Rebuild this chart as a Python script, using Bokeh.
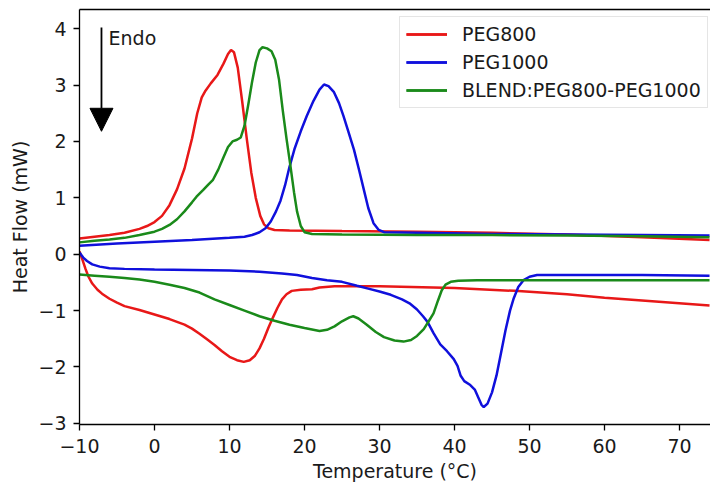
from bokeh.plotting import figure
from bokeh.models import Range1d, FixedTicker, LinearAxis, Arrow, NormalHead, Label
from bokeh.embed import file_html
from bokeh.resources import INLINE

# ---------------- data ----------------
series_names = ["PEG800", "PEG1000", "BLEND:PEG800-PEG1000"]

# PEG800 cooling (exothermic peak, upper curve)
peg800_cool_x = [-10, -8, -6, -4, -2, -1, 0, 1, 2, 3, 4, 5, 5.7, 6.3, 6.8, 7.5, 8.4, 9.2, 9.8, 10.2,
                 10.6, 11.1, 11.7, 12.3, 12.9, 13.5, 14.1, 14.6, 15.2, 16, 18, 25, 35, 45, 55, 65, 74]
peg800_cool_y = [0.28, 0.31, 0.34, 0.38, 0.45, 0.50, 0.57, 0.68, 0.87, 1.15, 1.52, 2.05, 2.50, 2.78, 2.90,
                 3.03, 3.18, 3.38, 3.55, 3.62, 3.58, 3.31, 2.70, 2.05, 1.45, 1.00, 0.68, 0.53, 0.46, 0.43,
                 0.42, 0.41, 0.40, 0.38, 0.35, 0.30, 0.25]
# PEG800 heating (endothermic, lower curve)
peg800_heat_x = [-10, -9.6, -9.2, -8.8, -8.3, -7.6, -7, -6, -5, -4, -2, 0, 2, 4, 5, 6, 7, 8, 9, 10, 11,
                 11.9, 12.7, 13.4, 14, 14.6, 15.2, 15.8, 16.4, 17, 17.6, 18.3, 19.5, 21, 22, 24, 30, 40,
                 48, 55, 60, 65, 74]
peg800_heat_y = [0.05, -0.10, -0.26, -0.40, -0.52, -0.63, -0.70, -0.79, -0.86, -0.92, -0.99, -1.07, -1.15,
                 -1.25, -1.32, -1.41, -1.51, -1.61, -1.72, -1.82, -1.88, -1.91, -1.88, -1.80, -1.67, -1.50,
                 -1.30, -1.12, -0.95, -0.80, -0.71, -0.65, -0.63, -0.62, -0.59, -0.57, -0.57, -0.60, -0.65,
                 -0.71, -0.77, -0.82, -0.91]

# PEG1000 cooling
peg1000_cool_x = [-10, -5, 0, 5, 10, 12, 13, 14, 14.8, 15.5, 16.2, 16.8, 17.4, 18, 18.7, 19.5, 20.3, 21.2,
                  22, 22.6, 23.2, 23.9, 24.6, 25.2, 25.9, 26.6, 27.3, 27.9, 28.5, 29.2, 29.9, 30.6, 35,
                  45, 55, 65, 74]
peg1000_cool_y = [0.15, 0.19, 0.22, 0.25, 0.29, 0.31, 0.34, 0.39, 0.46, 0.58, 0.76, 0.95, 1.22, 1.55, 1.88,
                  2.18, 2.45, 2.72, 2.92, 3.01, 2.98, 2.88, 2.68, 2.45, 2.15, 1.85, 1.48, 1.15, 0.82, 0.55,
                  0.43, 0.39, 0.38, 0.36, 0.35, 0.34, 0.33]
# PEG1000 heating
peg1000_heat_x = [-10, -9.5, -9, -8.3, -7.3, -6, -4, 0, 5, 10, 14, 17, 19, 21, 23, 25, 27, 28.5, 30, 31.5,
                  33, 34, 35, 35.8, 36.4, 37.2, 38.1, 39, 39.9, 40.4, 40.8, 41.3, 42.1, 42.7, 43.2, 43.6,
                  43.9, 44.4, 45, 45.6, 46.2, 46.8, 47.4, 47.9, 48.5, 49.2, 50, 51, 55, 65, 74]
peg1000_heat_y = [0.03, -0.06, -0.12, -0.18, -0.22, -0.25, -0.26, -0.27, -0.28, -0.29, -0.31, -0.34, -0.37,
                  -0.42, -0.46, -0.49, -0.56, -0.61, -0.66, -0.72, -0.80, -0.87, -0.98, -1.10, -1.20, -1.40,
                  -1.60, -1.72, -1.86, -1.98, -2.15, -2.25, -2.32, -2.40, -2.55, -2.67, -2.71, -2.65, -2.45,
                  -2.15, -1.75, -1.35, -1.00, -0.78, -0.58, -0.46, -0.40, -0.37, -0.37, -0.37, -0.38]

# Blend cooling
blend_cool_x = [-10, -8, -6, -4, -2, 0, 1, 2, 3, 4, 5, 5.6, 6.5, 7.2, 7.8, 8.5, 9.2, 9.8, 10.4, 11, 11.5,
                12, 12.5, 13, 13.5, 14, 14.4, 15, 15.6, 16.1, 16.6, 17.1, 17.6, 18.1, 18.6, 19, 19.5, 20,
                21, 25, 35, 45, 55, 65, 74]
blend_cool_y = [0.21, 0.24, 0.26, 0.29, 0.34, 0.40, 0.45, 0.52, 0.62, 0.76, 0.92, 1.02, 1.14, 1.24, 1.32,
                1.50, 1.72, 1.90, 2.00, 2.03, 2.07, 2.28, 2.65, 3.05, 3.40, 3.62, 3.67, 3.65, 3.60, 3.45,
                3.10, 2.55, 2.05, 1.59, 1.10, 0.76, 0.50, 0.39, 0.36, 0.35, 0.34, 0.34, 0.33, 0.32, 0.30]
# Blend heating
blend_heat_x = [-10, -8, -6, -4, -2, 0, 2, 4, 6, 8, 10, 12, 14, 16, 18, 20, 22, 23, 24, 25, 26, 26.5,
                27.2, 28.3, 29.5, 30.6, 32, 33.2, 34.2, 35, 35.9, 36.6, 37.2, 37.8, 38.3, 38.8, 39.5,
                40.5, 43, 50, 60, 74]
blend_heat_y = [-0.36, -0.38, -0.40, -0.42, -0.45, -0.49, -0.54, -0.60, -0.68, -0.80, -0.90, -1.00, -1.10,
                -1.18, -1.25, -1.31, -1.36, -1.34, -1.28, -1.19, -1.12, -1.10, -1.14, -1.25, -1.38, -1.47,
                -1.53, -1.55, -1.52, -1.45, -1.33, -1.18, -1.05, -0.82, -0.64, -0.54, -0.49, -0.47, -0.46,
                -0.46, -0.46, -0.46]

x_ticks = [-10, 0, 10, 20, 30, 40, 50, 60, 70]
x_tick_labels = ["\u221210", "0", "10", "20", "30", "40", "50", "60", "70"]
y_ticks = [-3, -2, -1, 0, 1, 2, 3, 4]
y_tick_labels = ["\u22123", "\u22122", "\u22121", "0", "1", "2", "3", "4"]

colors = ["#e81818", "#1010dc", "#1a8a1a"]
FONT = "DejaVu Sans"
FS = "19px"

# ---------------- figure ----------------
p = figure(width=710, height=485, output_backend="svg", toolbar_location=None,
           x_range=Range1d(-10, 74.13), y_range=Range1d(-3.02, 4.34),
           min_border_left=79, min_border_right=0, min_border_top=9, min_border_bottom=61)
p.outline_line_color = None
p.grid.visible = False
p.background_fill_color = "white"
p.border_fill_color = "white"

for ax, ticks, labels in ((p.xaxis[0], x_ticks, x_tick_labels), (p.yaxis[0], y_ticks, y_tick_labels)):
    ax.ticker = FixedTicker(ticks=ticks)
    ax.major_label_overrides = {t: l for t, l in zip(ticks, labels)}
    ax.axis_line_color = "black"
    ax.axis_line_width = 1.3
    ax.major_tick_line_color = "black"
    ax.major_tick_line_width = 1.3
    ax.major_tick_out = 6
    ax.major_tick_in = 0
    ax.minor_tick_out = 0
    ax.minor_tick_in = 0
    ax.major_label_text_font = FONT
    ax.major_label_text_font_size = FS
    ax.major_label_text_color = "#1a1a1a"
    ax.axis_label_text_font = FONT
    ax.axis_label_text_font_size = FS
    ax.axis_label_text_font_style = "normal"
    ax.axis_label_text_color = "#1a1a1a"

p.xaxis.axis_label = "Temperature (\u00b0C)"
p.yaxis.axis_label = "Heat Flow (mW)"
p.xaxis.major_label_standoff = 8
p.xaxis.axis_label_standoff = 4
p.yaxis.major_label_standoff = 7
p.yaxis.axis_label_standoff = 4

top_axis = LinearAxis(ticker=FixedTicker(ticks=[]), major_tick_out=0, major_tick_in=0,
                      minor_tick_out=0, minor_tick_in=0, major_label_text_font_size="0px",
                      major_label_standoff=0, axis_line_color="black", axis_line_width=1.3)
p.add_layout(top_axis, "above")

data = [
    (peg800_cool_x, peg800_cool_y, peg800_heat_x, peg800_heat_y),
    (peg1000_cool_x, peg1000_cool_y, peg1000_heat_x, peg1000_heat_y),
    (blend_cool_x, blend_cool_y, blend_heat_x, blend_heat_y),
]
for (cx, cy, hx, hy), name, col in zip(data, series_names, colors):
    p.line(cx, cy, line_color=col, line_width=2.5, legend_label=name)
    p.line(hx, hy, line_color=col, line_width=2.5, legend_label=name)

leg = p.legend[0]
leg.location = (320, 316)
leg.label_text_font = FONT
leg.label_text_font_size = FS
leg.label_text_color = "#1a1a1a"
leg.glyph_width = 41
leg.glyph_height = 22
leg.label_height = 22
leg.label_standoff = 15
leg.spacing = 6
leg.padding = 6
leg.margin = 0
leg.border_line_color = "#cccccc"
leg.border_line_width = 1
leg.background_fill_color = "white"
leg.background_fill_alpha = 1

# Endo arrow annotation
p.add_layout(Arrow(end=NormalHead(size=23, fill_color="black", line_color="black"),
                   x_start=-7.07, y_start=4.02, x_end=-7.07, y_end=2.18,
                   line_color="black", line_width=1.8))
p.add_layout(Label(x=-6.13, y=3.84, text="Endo", text_font=FONT, text_font_size=FS,
                   text_color="#1a1a1a", text_baseline="middle"))

open("out.html", "w").write(file_html(p, INLINE))
